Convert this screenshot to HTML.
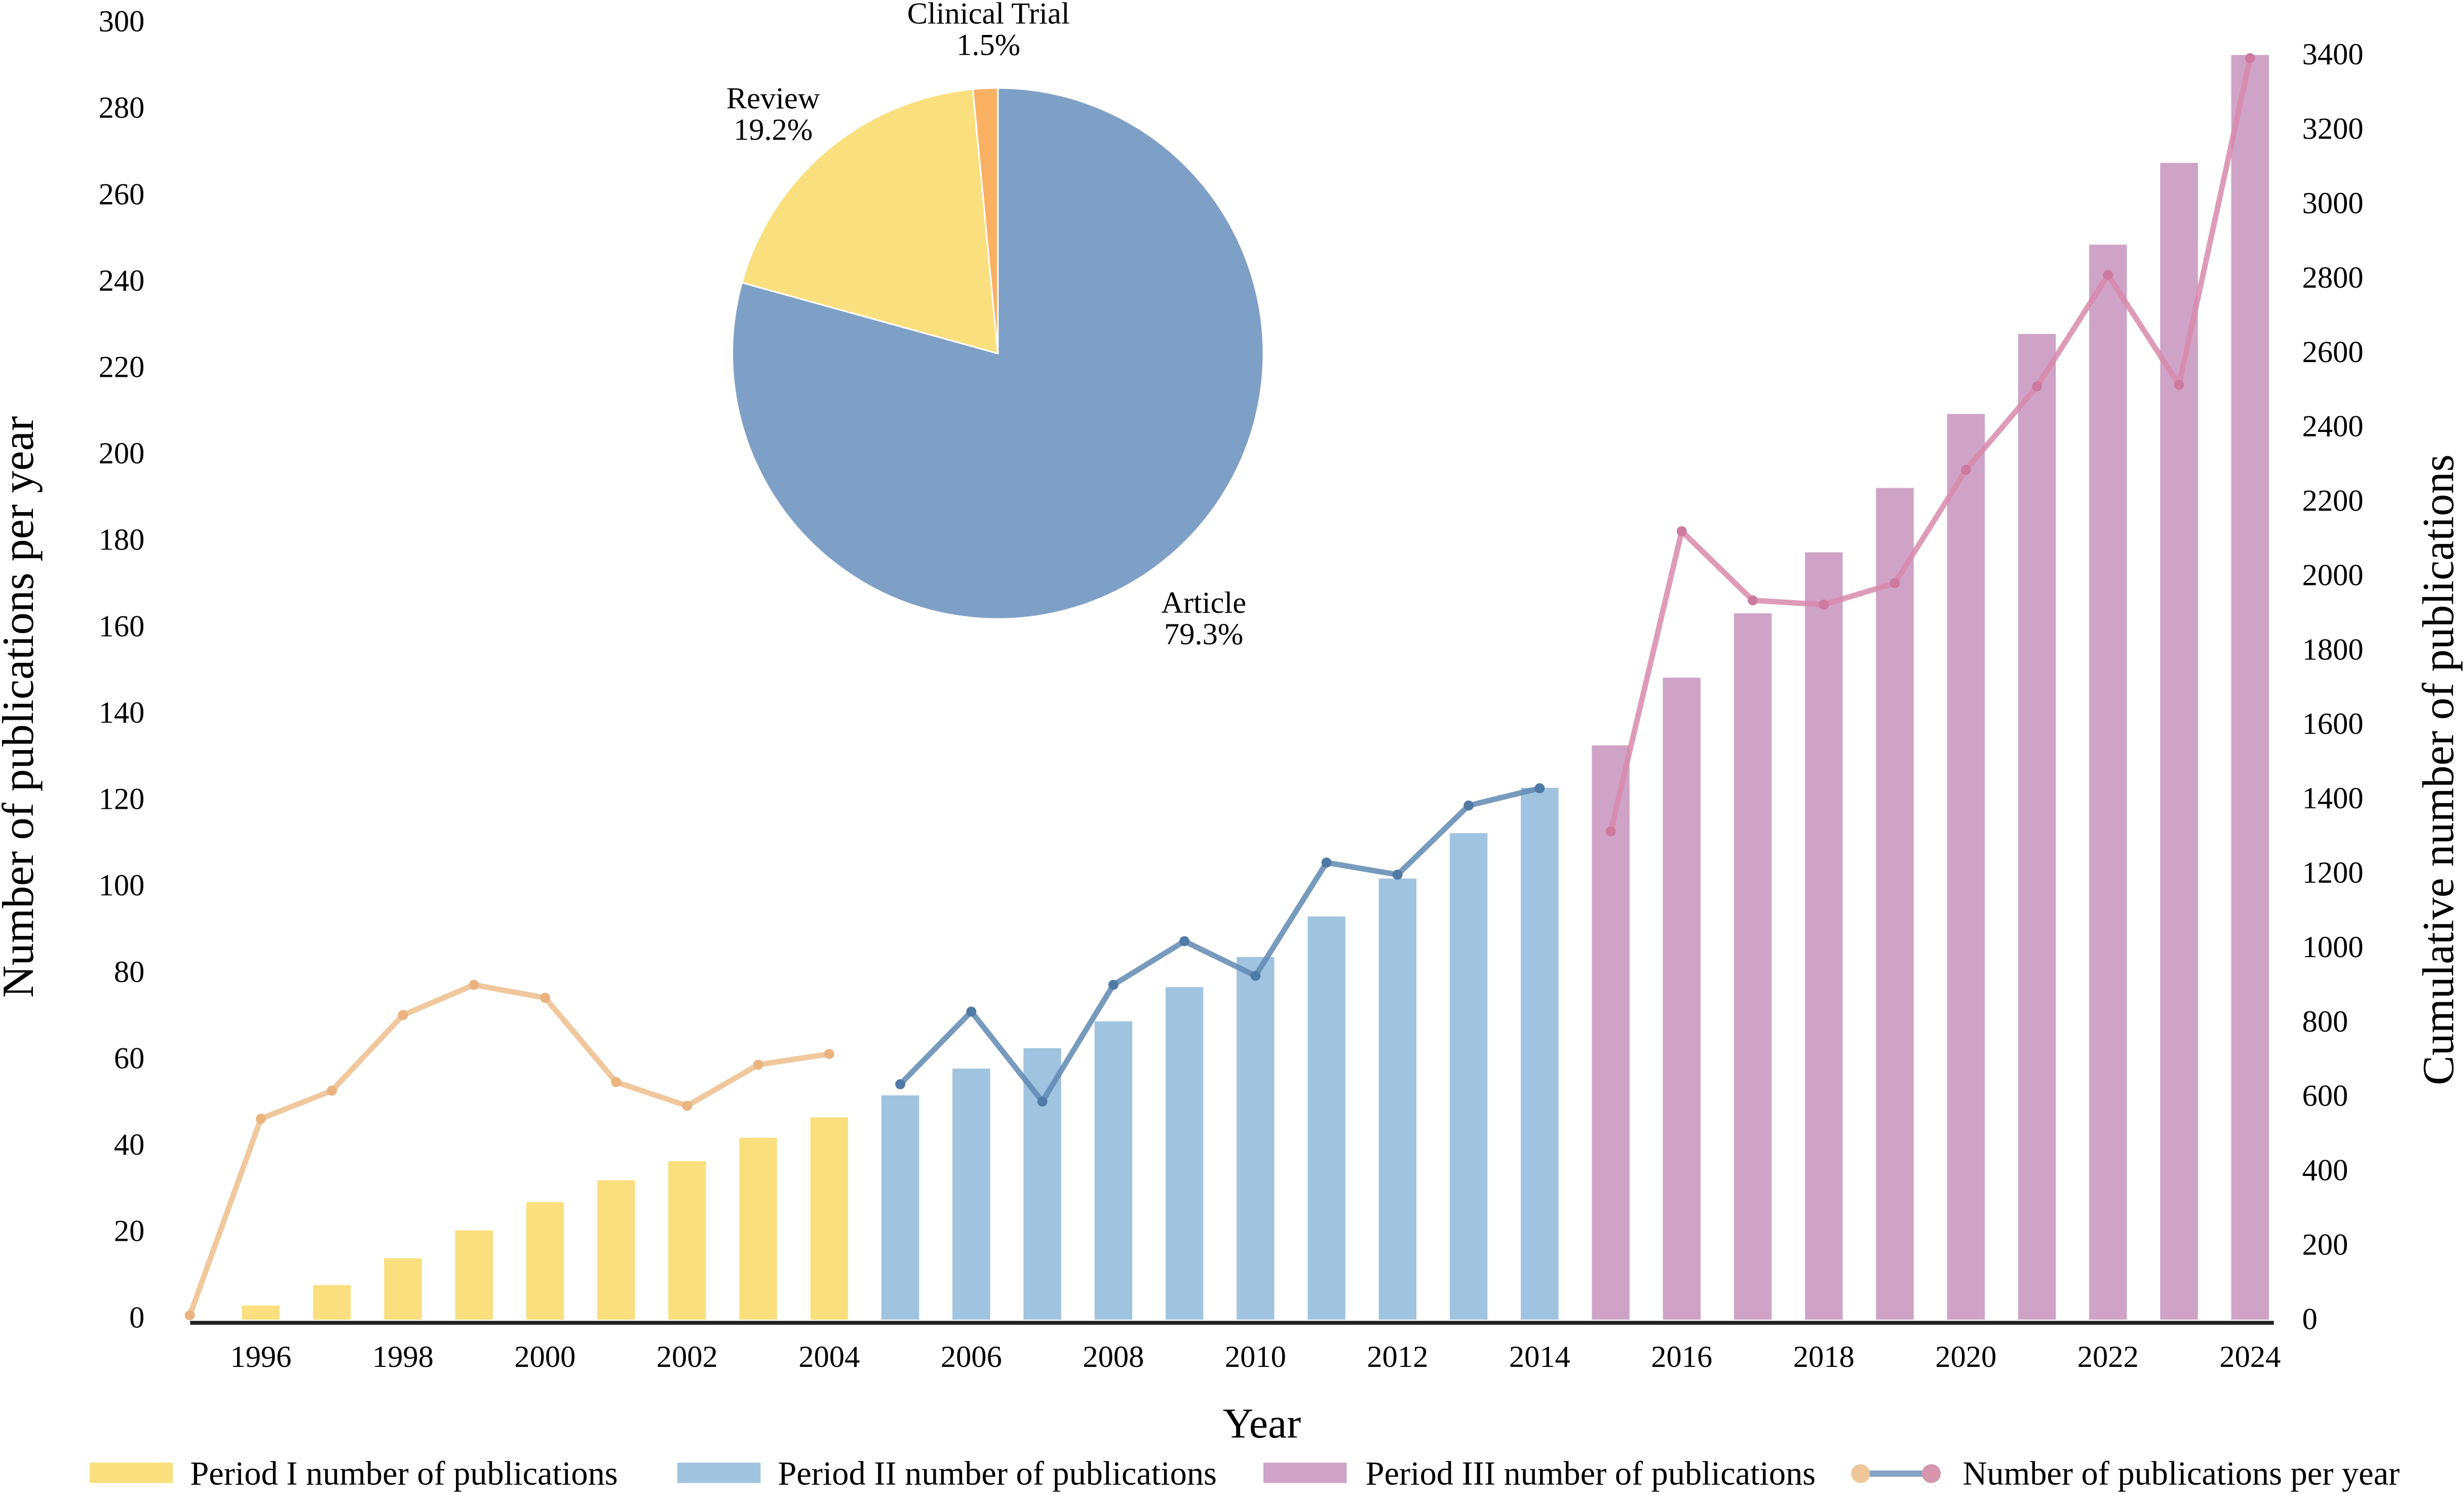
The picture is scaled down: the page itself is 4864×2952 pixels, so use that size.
<!DOCTYPE html>
<html><head><meta charset="utf-8"><style>
html,body{margin:0;padding:0;background:#fff;}
svg, svg text{font-family:"Liberation Serif","Times New Roman",serif;}
</style></head><body>
<svg id="chart" width="4864" height="2947" viewBox="0 0 1568 950" preserveAspectRatio="none" xmlns="http://www.w3.org/2000/svg" font-family="Liberation Serif, serif">
<g id="bars"></g>
<g id="lines"></g>
<g id="axes"></g>
<g id="pie"></g>
<text x="803" y="915" font-size="27" text-anchor="middle">Year</text>
<text transform="translate(21,450) rotate(-90)" font-size="28.5" text-anchor="middle">Number of publications per year</text>
<text transform="translate(1561,490) rotate(-90)" font-size="28.3" text-anchor="middle">Cumulative number of publications</text>
<g font-size="21.4">
<g><rect x="57" y="931" width="53" height="13" fill="#fadf7e"/><text x="121" y="945">Period I number of publications</text></g>
<g><rect x="431" y="931" width="53" height="13" fill="#a0c4e0"/><text x="495" y="945">Period II number of publications</text></g>
<g><rect x="804" y="931" width="53" height="13" fill="#cfa3c6"/><text x="869" y="945">Period III number of publications</text></g>
<g><line x1="1184" y1="938" x2="1229" y2="938" stroke="#84a4c6" stroke-width="4"/><circle cx="1184" cy="938" r="6" fill="#efc69a"/><circle cx="1229" cy="938" r="6" fill="#d795ae"/><text x="1249" y="945">Number of publications per year</text></g>
</g>
</svg>
<script>
const years=[1995,1996,1997,1998,1999,2000,2001,2002,2003,2004,2005,2006,2007,2008,2009,2010,2011,2012,2013,2014,2015,2016,2017,2018,2019,2020,2021,2022,2023,2024];
const cumulative=[null,38,93,165,240,316,375,426,489,544,603,675,730,802,894,975,1084,1186,1308,1430,1544,1726,1899,2063,2236,2435,2650,2890,3110,3400];
const perYear=[1,46.5,53,70.5,77.5,74.5,55,49.5,59,61.5,54.5,71.3,50.5,77.5,87.6,79.6,105.8,103,119,123,113,182.5,166.5,165.5,170.5,196.7,216,241.8,216.4,292];
const leftTicks=[0,20,40,60,80,100,120,140,160,180,200,220,240,260,280,300];
const rightTicks=[0,200,400,600,800,1000,1200,1400,1600,1800,2000,2200,2400,2600,2800,3000,3200,3400];
const xTickYears=[1996,1998,2000,2002,2004,2006,2008,2010,2012,2014,2016,2018,2020,2022,2024];
const pieLabels=["Article","Review","Clinical Trial"];
const pieValues=[79.3,19.2,1.5];

const NS="http://www.w3.org/2000/svg";
const y0=840;
const xS=y=>166+(y-1996)*45.21;
const yL=v=>y0-v*2.75;
const yR=v=>y0-v*(805/3400);
function mk(t,a,p){const e=document.createElementNS(NS,t);for(const k in a)e.setAttribute(k,a[k]);p.appendChild(e);return e;}
const period=y=>y<=2004?0:(y<=2014?1:2);
const barCol=["#fadf7e","#a0c4e0","#cfa3c6"];
const lineCol=["#efbd8c","#5f88b2","#d889aa"];
const dotCol=["#ebb37f","#4f7aa6","#cc7a9e"];

const gB=document.getElementById('bars');
years.forEach((y,i)=>{if(cumulative[i]==null)return;
 const r=mk('rect',{x:xS(y)-12,y:yR(cumulative[i]),width:24,height:y0-yR(cumulative[i]),fill:barCol[period(y)]},gB);
 
 
});
const gL=document.getElementById('lines');
[0,1,2].forEach(p=>{
 const pts=[];years.forEach((y,i)=>{if(period(y)===p)pts.push([xS(y),yL(perYear[i])]);});
 const pl=mk('polyline',{points:pts.map(q=>q.join(',')).join(' '),fill:'none',stroke:lineCol[p],'stroke-width':3.5,'stroke-opacity':0.85,'stroke-linejoin':'round'},gL);
 
 
 pts.forEach(q=>{const c=mk('circle',{cx:q[0],cy:q[1],r:3.2,fill:dotCol[p]},gL);
  
  });
});
const gA=document.getElementById('axes');
const ax=mk('line',{x1:121,y1:y0+2,x2:1447,y2:y0+2,stroke:'#222','stroke-width':2.5},gA);


leftTicks.forEach(v=>{const t=mk('text',{x:92,y:yL(v)+5,'font-size':19.5,'text-anchor':'end','font-family':'Liberation Serif, serif'},gA);t.textContent=v;
 
 });
rightTicks.forEach(v=>{const t=mk('text',{x:1465,y:yR(v)+6,'font-size':19.5,'font-family':'Liberation Serif, serif'},gA);t.textContent=v;
 
 });
xTickYears.forEach(v=>{const t=mk('text',{x:xS(v),y:870,'font-size':19.5,'text-anchor':'middle','font-family':'Liberation Serif, serif'},gA);t.textContent=v;
 
 });

const gP=document.getElementById('pie');
const cx=635,cy=225,R=169;const pieCol=["#7fa0c6","#fadf7e","#f9b062"];
const labelPos=[[766,390],[492,69],[629,15]];
let acc=0;const tot=pieValues.reduce((a,b)=>a+b,0);
pieValues.forEach((v,i)=>{
 const a0=acc/tot*2*Math.PI;acc+=v;const a1=acc/tot*2*Math.PI;
 const x0=cx+R*Math.sin(a0),yy0=cy-R*Math.cos(a0),x1=cx+R*Math.sin(a1),yy1=cy-R*Math.cos(a1);
 const large=(a1-a0)>Math.PI?1:0;
 const p=mk('path',{d:`M${cx},${cy}L${x0},${yy0}A${R},${R} 0 ${large} 1 ${x1},${yy1}Z`,fill:pieCol[i],stroke:'#fff','stroke-width':1},gP);
 
 
 const t=mk('text',{x:labelPos[i][0],y:labelPos[i][1],'font-size':19.5,'text-anchor':'middle','font-family':'Liberation Serif, serif'},gP);
 
 
 const s1=mk('tspan',{x:labelPos[i][0]},t);s1.textContent=pieLabels[i];
 const s2=mk('tspan',{x:labelPos[i][0],dy:20},t);s2.textContent=v.toFixed(1)+'%';
});
</script>
</body></html>
